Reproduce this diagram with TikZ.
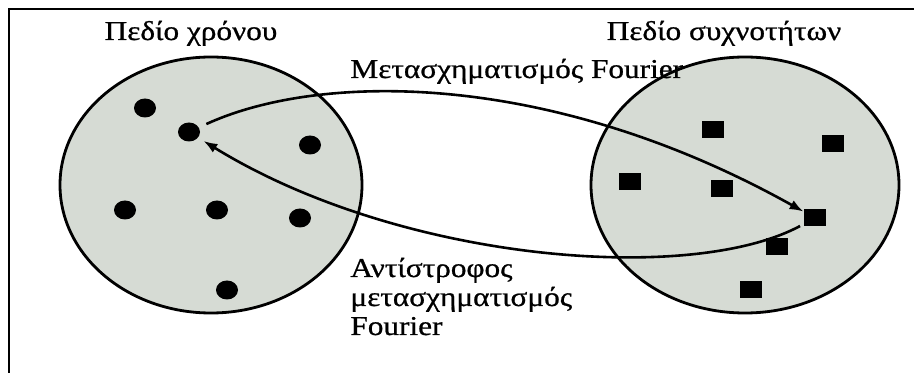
\documentclass[tikz,border=0pt]{standalone}
\usepackage{fontspec}
\setmainfont[FakeStretch=1.15,FakeBold=0.8]{Liberation Serif}
\usepackage{tikz}
\usetikzlibrary{shapes.geometric,arrows.meta}

\definecolor{domain}{RGB}{214,219,212}

\begin{document}
\begin{tikzpicture}[x=0.5pt,y=-0.5pt, every node/.style={font=\fontsize{13.6}{14.5}\selectfont},
    dom/.style={ellipse, draw, line width=1.4pt, fill=domain, inner sep=0pt},
    dot/.style={ellipse, fill=black, inner sep=0pt, minimum width=11pt, minimum height=9.5pt},
    sq/.style={rectangle, fill=black, inner sep=0pt, minimum width=11pt, minimum height=8.5pt},
    arr/.style={line width=1.3pt, -{Latex[length=7pt,width=5pt]}}]
            \useasboundingbox (0,0) rectangle (914,373);
            \draw[line width=1pt] (9,373) -- (9,9) -- (914,9);

            \node[dom, minimum width=151pt, minimum height=128pt] (time) at (211,185) {};
            \node[dom, minimum width=154pt, minimum height=128pt] (freq) at (745,185) {};

            \foreach \x/\y/\n in {145/108/1,189/132/2,310/145/3,125/210/4,217/210/5,300/218/6,227/290/7} {
                \node[dot] (t\n) at (\x,\y) {};
            }
            \foreach \x/\y/\n in {713/130/1,833/144/2,630/182/3,722/189/4,815/218/5,777/247/6,751/290/7} {
                \node[sq] (f\n) at (\x,\y) {};
            }

            \draw[arr, shorten <=4pt] (t2) .. controls (320,72) and (550,70) .. (f5);
            \draw[arr, shorten <=2pt, shorten >=3pt] (f5) .. controls (690,285) and (400,262) .. (t2);

            \node[anchor=base] (timelbl) at (191,40) {Πεδίο χρόνου};
            \node[anchor=base] (freqlbl) at (724,40) {Πεδίο συχνοτήτων};
            \node[anchor=base west, inner sep=0pt] (ftlbl) at (350,78) {Μετασχηματισμός Fourier};
            \node[anchor=base west, inner sep=0pt, align=left] (iftlbl) at (350,335) {Αντίστροφος\\μετασχηματισμός\\Fourier};
        \end{tikzpicture}
\end{document}
